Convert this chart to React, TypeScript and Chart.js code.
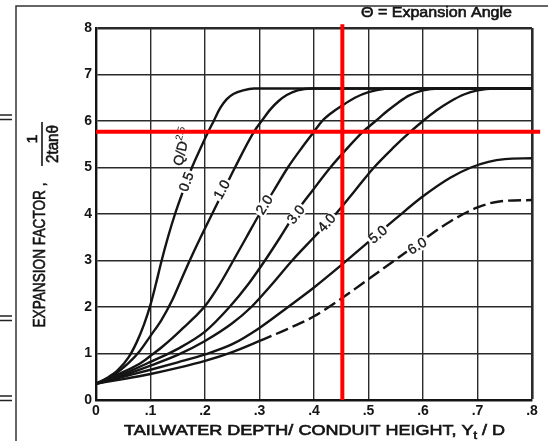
import React, { useEffect, useRef } from "react";
import { Chart, registerables } from "chart.js";

Chart.register(...registerables);

// ---------- data ----------
const xTickLabels = ["0", ".1", ".2", ".3", ".4", ".5", ".6", ".7", ".8"];
const yTickLabels = ["0", "1", "2", "3", "4", "5", "6", "7", "8"];

const curveNames = ["0.5", "1.0", "2.0", "3.0", "4.0", "5.0", "6.0"];

const c05X = [0, 0.02, 0.04, 0.06, 0.075, 0.088, 0.1, 0.11, 0.12, 0.132, 0.145, 0.16, 0.176, 0.192, 0.206, 0.216, 0.228, 0.24, 0.252, 0.27, 0.29, 0.8];
const c05Y = [0.35, 0.47, 0.64, 0.92, 1.25, 1.62, 2.05, 2.5, 2.98, 3.5, 4.0, 4.5, 5.0, 5.42, 5.77, 6.0, 6.28, 6.47, 6.58, 6.66, 6.7, 6.7];

const c10X = [0, 0.03, 0.06, 0.08, 0.1, 0.12, 0.14, 0.155, 0.172, 0.192, 0.213, 0.234, 0.255, 0.29, 0.307, 0.32, 0.335, 0.35, 0.37, 0.395, 0.8];
const c10Y = [0.35, 0.52, 0.8, 1.05, 1.38, 1.72, 2.15, 2.55, 3.0, 3.5, 4.0, 4.5, 5.0, 5.77, 6.05, 6.25, 6.43, 6.56, 6.66, 6.7, 6.7];

const c20X = [0, 0.04, 0.08, 0.1, 0.12, 0.14, 0.16, 0.18, 0.2, 0.225, 0.252, 0.276, 0.3, 0.326, 0.352, 0.378, 0.4, 0.415, 0.435, 0.45, 0.475, 0.5, 0.53, 0.56, 0.8];
const c20Y = [0.35, 0.55, 0.78, 0.95, 1.13, 1.33, 1.55, 1.77, 2.02, 2.45, 3.0, 3.5, 4.0, 4.5, 5.0, 5.43, 5.77, 6.0, 6.2, 6.32, 6.5, 6.62, 6.69, 6.7, 6.7];

const c30X = [0, 0.05, 0.1, 0.15, 0.2, 0.245, 0.28, 0.31, 0.338, 0.365, 0.397, 0.43, 0.46, 0.49, 0.513, 0.535, 0.555, 0.575, 0.6, 0.63, 0.8];
const c30Y = [0.35, 0.56, 0.82, 1.1, 1.47, 2.0, 2.5, 3.0, 3.5, 4.0, 4.5, 5.0, 5.4, 5.77, 6.0, 6.22, 6.4, 6.55, 6.66, 6.7, 6.7];

const c40X = [0, 0.05, 0.1, 0.15, 0.2, 0.25, 0.285, 0.32, 0.36, 0.4, 0.44, 0.475, 0.51, 0.545, 0.577, 0.6, 0.625, 0.65, 0.675, 0.7, 0.73, 0.8];
const c40Y = [0.35, 0.53, 0.74, 0.97, 1.27, 1.65, 2.0, 2.45, 3.0, 3.5, 4.0, 4.5, 5.0, 5.42, 5.77, 6.0, 6.23, 6.42, 6.57, 6.66, 6.7, 6.7];

const c50X = [0, 0.05, 0.1, 0.15, 0.2, 0.25, 0.3, 0.35, 0.4, 0.45, 0.5, 0.55, 0.6, 0.65, 0.688, 0.72, 0.75, 0.8];
const c50Y = [0.35, 0.5, 0.65, 0.81, 0.98, 1.2, 1.55, 1.98, 2.42, 2.9, 3.4, 3.9, 4.38, 4.78, 5.0, 5.12, 5.18, 5.2];

const c60X = [0, 0.05, 0.1, 0.15, 0.2, 0.25, 0.3, 0.35, 0.4, 0.45, 0.5, 0.55, 0.6, 0.65, 0.7, 0.74, 0.8];
const c60Y = [0.35, 0.45, 0.56, 0.69, 0.84, 1.03, 1.27, 1.52, 1.8, 2.18, 2.6, 3.02, 3.44, 3.84, 4.14, 4.27, 4.3];

const curveXs = [c05X, c10X, c20X, c30X, c40X, c50X, c60X];
const curveYs = [c05Y, c10Y, c20Y, c30Y, c40Y, c50Y, c60Y];
const dashedFrom = 0.3; // 6.0 curve becomes dashed beyond this depth

// in-curve label anchors (data coords) and rotation (deg)
const labelX = [0.167, 0.232, 0.31, 0.368, 0.424, 0.518, 0.59];
const labelY = [4.69, 4.52, 4.19, 3.98, 3.8, 3.55, 3.3];
const labelAngle = [-70, -62, -58, -52, -48, -40, -32];
const qdLabelX = 0.1575;
const qdLabelY = 5.45;

// red reading lines
const redLevel = 5.77;
const redDepth = 0.452;
const redLineXEnd = 0.815;
const redLineYEnd = 8.08;

const titleText = "\u0398 = Expansion Angle";
const xTitleMain = "TAILWATER DEPTH/ CONDUIT HEIGHT, Y";
const xTitleSub = "t";
const xTitleEnd = " / D";
const yTitleMain = "EXPANSION FACTOR ,";

const FONT = "'Liberation Sans', Arial, sans-serif";
const INK = "#141414";

function fitText(ctx: CanvasRenderingContext2D, text: string, cx: number, cy: number, width: number, font: string, angle = 0, stroke = 0.5) {
  ctx.save();
  ctx.font = font;
  const w = ctx.measureText(text).width;
  ctx.translate(cx, cy);
  ctx.rotate(angle);
  ctx.scale(width / w, 1);
  ctx.textAlign = "center";
  ctx.textBaseline = "middle";
  ctx.fillStyle = INK;
  ctx.strokeStyle = INK;
  ctx.lineWidth = stroke;
  ctx.fillText(text, 0, 0);
  if (stroke > 0) ctx.strokeText(text, 0, 0);
  ctx.restore();
}

const decorPlugin = {
  id: "decor",
  afterDatasetDraw(chart: any, args: any) {
    if (args.index !== 2) return;
    const ctx: CanvasRenderingContext2D = chart.ctx;
    const xs = chart.scales.x;
    const ys = chart.scales.y;
    ctx.save();
    ctx.strokeStyle = INK;
    ctx.lineWidth = 0.35;
    for (let i = 0; i < curveNames.length; i++) {
      const px = xs.getPixelForValue(labelX[i]);
      const py = ys.getPixelForValue(labelY[i]);
      ctx.save();
      ctx.translate(px, py);
      ctx.rotate((labelAngle[i] * Math.PI) / 180);
      ctx.font = `14px ${FONT}`;
      const w = ctx.measureText(curveNames[i]).width;
      ctx.fillStyle = "#fff";
      ctx.fillRect(-w / 2 - 2, -6, w + 4, 12);
      ctx.fillStyle = INK;
      ctx.textAlign = "center";
      ctx.textBaseline = "middle";
      ctx.fillText(curveNames[i], 0, 0);
      ctx.strokeText(curveNames[i], 0, 0);
      ctx.restore();
    }
    // Q/D^2.5 label
    {
      const px = xs.getPixelForValue(qdLabelX);
      const py = ys.getPixelForValue(qdLabelY);
      ctx.save();
      ctx.translate(px, py);
      ctx.rotate((-77 * Math.PI) / 180);
      ctx.font = `14px ${FONT}`;
      const w1 = ctx.measureText("Q/D").width;
      ctx.font = `10px ${FONT}`;
      const w2 = ctx.measureText("2.5").width;
      const tot = w1 + w2;
      ctx.fillStyle = INK;
      ctx.textBaseline = "middle";
      ctx.textAlign = "left";
      ctx.font = `14px ${FONT}`;
      ctx.fillText("Q/D", -tot / 2, 1);
      ctx.strokeText("Q/D", -tot / 2, 1);
      ctx.font = `10px ${FONT}`;
      ctx.fillText("2.5", -tot / 2 + w1, -4);
      ctx.restore();
    }
    ctx.restore();
  },
  afterDraw(chart: any) {
    const ctx: CanvasRenderingContext2D = chart.ctx;
    ctx.save();
    // outer frame lines of the scan
    ctx.strokeStyle = "#333";
    ctx.lineWidth = 1.5;
    ctx.beginPath();
    ctx.moveTo(16, 441);
    ctx.lineTo(16, 6);
    ctx.lineTo(548, 6);
    ctx.stroke();
    // "=" marks at the left edge
    ctx.lineWidth = 1.6;
    ctx.strokeStyle = "#222";
    for (const yy of [115, 316, 396]) {
      ctx.beginPath();
      ctx.moveTo(0, yy);
      ctx.lineTo(12, yy);
      ctx.moveTo(0, yy + 4.5);
      ctx.lineTo(12, yy + 4.5);
      ctx.stroke();
    }
    // top-right title
    fitText(ctx, titleText, 436.5, 13.5, 151, `14px ${FONT}`, 0, 0.6);
    // x axis title with subscript
    {
      const main = `14px ${FONT}`;
      const sub = `10px ${FONT}`;
      ctx.font = main;
      const w1 = ctx.measureText(xTitleMain).width;
      const w3 = ctx.measureText(xTitleEnd).width;
      ctx.font = sub;
      const w2 = ctx.measureText(xTitleSub).width;
      const s = 381 / (w1 + w2 + w3);
      ctx.save();
      ctx.translate(124, 431);
      ctx.scale(s, 1);
      ctx.fillStyle = INK;
      ctx.strokeStyle = INK;
      ctx.lineWidth = 0.6;
      ctx.textAlign = "left";
      ctx.textBaseline = "middle";
      ctx.font = main;
      ctx.fillText(xTitleMain, 0, 0);
      ctx.strokeText(xTitleMain, 0, 0);
      ctx.font = sub;
      ctx.fillText(xTitleSub, w1, 5);
      ctx.strokeText(xTitleSub, w1, 5);
      ctx.font = main;
      ctx.fillText(xTitleEnd, w1 + w2, 0);
      ctx.strokeText(xTitleEnd, w1 + w2, 0);
      ctx.restore();
    }
    // y axis title
    fitText(ctx, yTitleMain, 40, 255, 145, `17px ${FONT}`, -Math.PI / 2, 0.6);
    // fraction 1 / (2 tan θ)
    ctx.strokeStyle = INK;
    ctx.lineWidth = 1.6;
    ctx.beginPath();
    ctx.moveTo(42, 122);
    ctx.lineTo(42, 166);
    ctx.stroke();
    fitText(ctx, "1", 33, 139, 9, `15px ${FONT}`, -Math.PI / 2, 0.6);
    fitText(ctx, "2tan\u03b8", 53.5, 144, 38, `16px ${FONT}`, -Math.PI / 2, 0.6);
    ctx.restore();
  },
};

export default function App() {
  const ref = useRef<HTMLCanvasElement | null>(null);
  useEffect(() => {
    document.body.style.margin = "0";
    const canvas = ref.current;
    if (!canvas) return;

    const curveSets = curveNames.map((name, i) => ({
      label: name,
      data: curveXs[i].map((x, j) => ({ x, y: curveYs[i][j] })),
      borderColor: INK,
      borderWidth: 2.4,
      pointRadius: 0,
      cubicInterpolationMode: "monotone" as const,
      fill: false,
      segment:
        i === curveNames.length - 1
          ? { borderDash: (c: any) => (c.p0.parsed.x >= dashedFrom - 1e-9 ? [13, 5] : undefined) }
          : undefined,
    }));

    const chart = new Chart(canvas, {
      type: "line",
      data: {
        datasets: [
          {
            label: "redH",
            data: [
              { x: 0, y: redLevel },
              { x: redLineXEnd, y: redLevel },
            ],
            borderColor: "#ff0000",
            borderWidth: 4,
            pointRadius: 0,
            clip: false as any,
          },
          {
            label: "redV",
            data: [
              { x: redDepth, y: 0 },
              { x: redDepth, y: redLineYEnd },
            ],
            borderColor: "#ff0000",
            borderWidth: 4,
            pointRadius: 0,
            clip: false as any,
          },
          ...curveSets,
        ] as any,
      },
      options: {
        responsive: false,
        animation: false,
        events: [],
        layout: { padding: { left: 0, top: 28, right: 16, bottom: 0 } },
        plugins: { legend: { display: false }, tooltip: { enabled: false }, title: { display: false } },
        scales: {
          x: {
            type: "linear",
            min: 0,
            max: 0.8,
            afterFit: (s: any) => {
              s.height = 41;
            },
            ticks: {
              stepSize: 0.1,
              autoSkip: false,
              maxRotation: 0,
              padding: 3,
              color: INK,
              font: { family: FONT, size: 14, weight: "bold" },
              callback: (_v: any, i: number) => xTickLabels[i],
            },
            grid: {
              drawTicks: false,
              color: "#2a2a2a",
              lineWidth: (c: any) => (c.index === 8 ? 2.6 : 1.4),
            },
            border: { display: true, color: INK, width: 2.4 },
          },
          y: {
            type: "linear",
            min: 0,
            max: 8,
            afterFit: (s: any) => {
              s.width = 96;
            },
            ticks: {
              stepSize: 1,
              padding: 4,
              color: INK,
              font: { family: FONT, size: 14, weight: "bold" },
              callback: (_v: any, i: number) => yTickLabels[i],
            },
            grid: {
              drawTicks: false,
              color: "#2a2a2a",
              lineWidth: (c: any) => (c.index === 8 ? 2.6 : 1.4),
            },
            border: { display: true, color: INK, width: 2.4 },
          },
        },
      },
      plugins: [decorPlugin],
    });
    return () => chart.destroy();
  }, []);

  return (
    <div style={{ width: 548, height: 441, background: "#fff" }}>
      <canvas ref={ref} width={548} height={441} style={{ display: "block", width: 548, height: 441 }} />
    </div>
  );
}
